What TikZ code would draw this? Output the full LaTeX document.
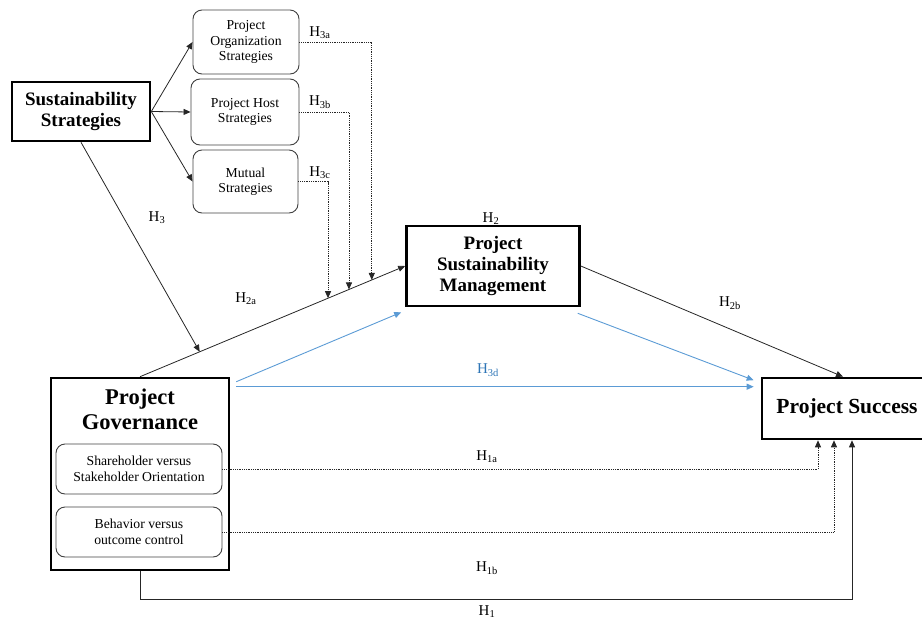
\documentclass[tikz,border=0pt]{standalone}
\usepackage{fontspec}
\setmainfont{Liberation Serif}
\usetikzlibrary{arrows.meta,calc}
\definecolor{linkblue}{HTML}{5B9BD5}
\definecolor{labelblue}{HTML}{2E75B6}
\begin{document}
\begin{tikzpicture}[x=1pt,y=-1pt,
  mainbox/.style={draw,line width=2.6pt,align=center,inner sep=0pt},
  subbox/.style={draw=black!75,line width=0.9pt,rounded corners=9pt,align=center,inner sep=0pt,
    font=\fontsize{13.7}{15.5}\selectfont},
  link/.style={draw=black!85,line width=0.8pt,-{Triangle[length=7pt,width=6pt]}},
  dotlink/.style={link,densely dotted,line width=0.9pt},
  bluelink/.style={draw=linkblue,line width=0.9pt,-{Triangle[length=7pt,width=6pt]}},
  hlabel/.style={font=\fontsize{15}{17}\selectfont,inner sep=0pt}
]
\useasboundingbox (0,0) rectangle (922,619);

% ---- main constructs ----
\node[mainbox,minimum width=138pt,minimum height=59pt,
      font=\bfseries\fontsize{19}{21}\selectfont] (ss) at (81,111.5) {Sustainability\\Strategies};
\node[mainbox,minimum width=173pt,minimum height=80pt,
      font=\bfseries\fontsize{19}{21}\selectfont] (psm) at (493,266) {Project\\Sustainability\\Management};
\node[mainbox,minimum width=178pt,minimum height=192pt] (pg) at (140,474) {};
\node[font=\bfseries\fontsize{22.5}{25}\selectfont,align=center,inner sep=0pt] (pgtitle) at (140,409) {Project\\Governance};
\node[mainbox,minimum width=170pt,minimum height=61pt,
      font=\bfseries\fontsize{21.5}{24}\selectfont] (ps) at (847,408.5) {Project Success};

% ---- strategy sub-boxes ----
\node[subbox,minimum width=106pt,minimum height=64pt] (pos) at (246,42) {Project\\Organization\\Strategies};
\node[subbox,minimum width=108pt,minimum height=66pt] (phs) at (245,112) {Project Host\\Strategies};
\node[subbox,minimum width=105pt,minimum height=63pt] (ms) at (245.5,181.5) {Mutual\\Strategies};

% ---- governance dimensions ----
\node[subbox,minimum width=166pt,minimum height=50pt] (sh) at (139,469) {Shareholder versus\\Stakeholder Orientation};
\node[subbox,minimum width=166pt,minimum height=50pt] (bh) at (139,532) {Behavior versus\\outcome control};

% ---- strategies split ----
\draw[link] (ss.east) -- (pos.west);
\draw[link] (ss.east) -- (phs.west);
\draw[link] (ss.east) -- (ms.west);

% ---- governance -> sustainability management (H2a) and moderation points ----
\draw[link] (pg.north) -- (psm.west);
\path (pg.north) -- (psm.west)
  coordinate[pos=0.225] (m3)
  coordinate[pos=0.709] (m3c)
  coordinate[pos=0.788] (m3b)
  coordinate[pos=0.874] (m3a);

\draw[link] (ss.south) -- (m3);
\draw[dotlink] (pos.east) -| (m3a);
\draw[dotlink] (phs.east) -| (m3b);
\draw[dotlink] (ms.east) -| (m3c);

% ---- H3d paths ----
\coordinate (b1s) at ($(pg.north east)+(6,5)$);
\coordinate (b1e) at ($(psm.south west)+(-4,5)$);
\coordinate (b2s) at ($(psm.south east)+(-3,6)$);
\coordinate (b2e) at ($(ps.north west)+(-7,3.5)$);
\coordinate (b3s) at ($(pg.north east)+(6,10)$);
\coordinate (b3e) at ($(ps.north west)+(-7,10)$);
\draw[bluelink] (b1s) -- (b1e);
\draw[bluelink] (b2s) -- (b2e);
\draw[bluelink] (b3s) -- (b3e);

% ---- H2b ----
\draw[link] (psm.east) -- ($(ps.north)+(-4,0)$);

% ---- H1 paths ----
\draw[dotlink] (sh.east) -| ($(ps.south)+(-29,0)$);
\draw[dotlink] (bh.east) -| ($(ps.south)+(-13,0)$);
\draw[link] (pg.south) -- ++(0,28) -| ($(ps.south)+(5,0)$);

% ---- hypothesis labels ----
\node[hlabel] (l3a) at (320,33) {H\textsubscript{3a}};
\node[hlabel] (l3b) at (320,102) {H\textsubscript{3b}};
\node[hlabel] (l3c) at (320,173) {H\textsubscript{3c}};
\node[hlabel] (l3) at (157,218) {H\textsubscript{3}};
\node[hlabel] (l2a) at (246,299) {H\textsubscript{2a}};
\node[hlabel] (l2) at (491,219) {H\textsubscript{2}};
\node[hlabel] (l2b) at (730,303) {H\textsubscript{2b}};
\node[hlabel,text=labelblue] (l3d) at (488,370) {H\textsubscript{3d}};
\node[hlabel] (l1a) at (487,457) {H\textsubscript{1a}};
\node[hlabel] (l1b) at (487,568) {H\textsubscript{1b}};
\node[hlabel] (l1) at (487,612) {H\textsubscript{1}};
\end{tikzpicture}
\end{document}
